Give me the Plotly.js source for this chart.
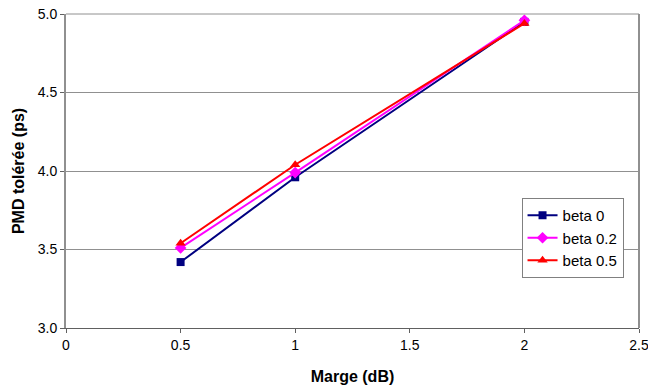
<!DOCTYPE html>
<html><head><meta charset="utf-8">
<script src="https://cdn.plot.ly/plotly-3.0.1.min.js"></script>
<style>html,body{margin:0;padding:0;background:#fff}#c{width:648px;height:388px}</style>
</head><body><div id="c"></div>
<script>
const marge = [0.5, 1, 2];
const beta0 = [3.42, 3.96, 4.95];
const beta02 = [3.51, 3.99, 4.96];
const beta05 = [3.54, 4.04, 4.94];
const names = ['beta 0', 'beta 0.2', 'beta 0.5'];
const xTicks = [0, 0.5, 1, 1.5, 2, 2.5];
const yTicks = [3.0, 3.5, 4.0, 4.5, 5.0];

const font = 'Liberation Sans, Arial, sans-serif';
const traces = [
  {x: marge, y: beta0, name: names[0], mode: 'lines+markers', line: {color: '#000080', width: 2}, marker: {symbol: 'square', size: 8, color: '#000080'}},
  {x: marge, y: beta02, name: names[1], mode: 'lines+markers', line: {color: '#FF00FF', width: 2}, marker: {symbol: 'diamond', size: 9, color: '#FF00FF'}},
  {x: marge, y: beta05, name: names[2], mode: 'lines+markers', line: {color: '#FF0000', width: 2}, marker: {symbol: 'triangle-up', size: 9, color: '#FF0000'}}
];
const layout = {
  width: 648, height: 388,
  margin: {l: 66, r: 9, t: 14, b: 60},
  paper_bgcolor: '#fff', plot_bgcolor: '#fff',
  font: {family: font, size: 14, color: '#000'},
  showlegend: true,
  legend: {x: 0.795, y: 0.414, xanchor: 'left', yanchor: 'top', bgcolor: '#fff', bordercolor: '#808080', borderwidth: 1, font: {size: 15}, tracegroupgap: 0, itemwidth: 30},
  xaxis: {
    range: [0, 2.5], tickvals: xTicks, ticktext: xTicks.map(String),
    showgrid: false, zeroline: false, showline: true, linecolor: '#606060', linewidth: 1,
    ticks: 'outside', ticklen: 4, tickcolor: '#606060', ticklabeloverflow: 'allow', automargin: false,
    tickfont: {size: 14},
    title: {text: '<b>Marge (dB)</b>', font: {size: 16}, standoff: 19}
  },
  yaxis: {
    range: [3.0, 5.0], tickvals: yTicks, ticktext: yTicks.map(v => v.toFixed(1)),
    showgrid: true, gridcolor: '#909090', gridwidth: 1, zeroline: false,
    showline: true, linecolor: '#909090', linewidth: 2,
    ticks: 'outside', ticklen: 4, tickcolor: '#606060', automargin: false,
    tickfont: {size: 14},
    title: {text: '<b>PMD tolérée (ps)</b>', font: {size: 16}, standoff: 9}
  },
  shapes: [
    {type: 'line', xref: 'paper', yref: 'paper', x0: 1, x1: 1, y0: 0, y1: 1, line: {color: '#909090', width: 2}},
    {type: 'line', xref: 'paper', yref: 'paper', x0: 0, x1: 1, y0: 1, y1: 1, line: {color: '#909090', width: 1}}
  ]
};
Plotly.newPlot('c', traces, layout, {displayModeBar: false, staticPlot: true});
</script></body></html>
